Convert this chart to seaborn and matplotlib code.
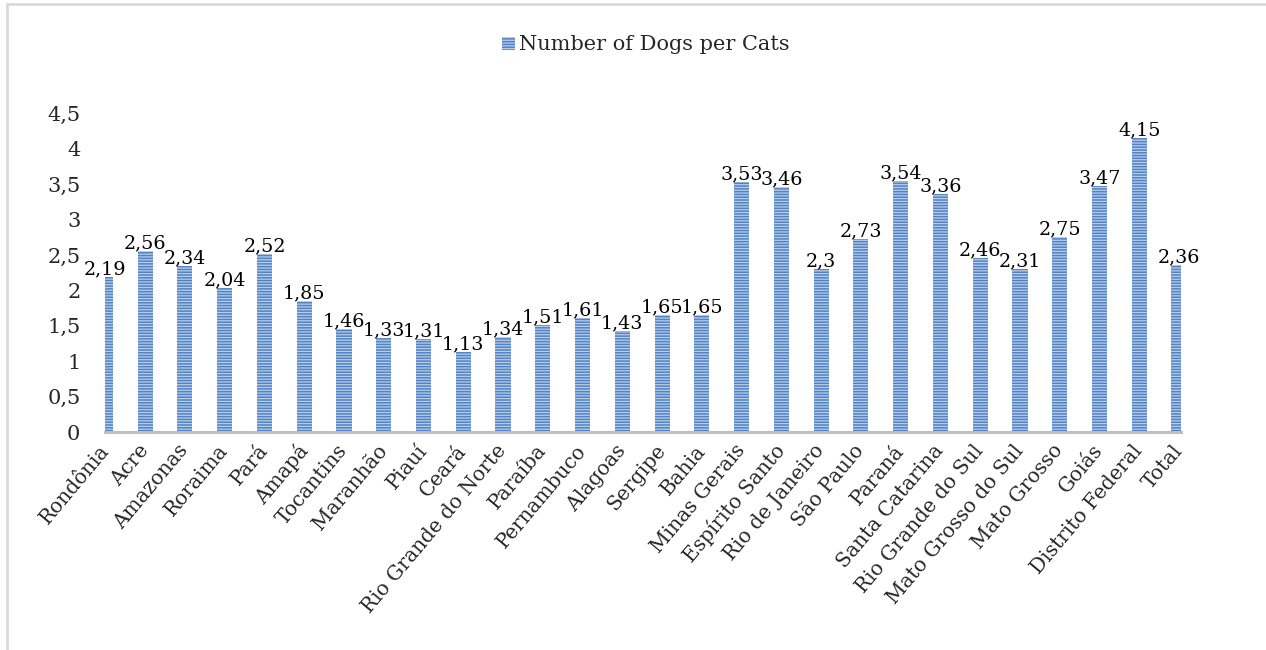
import matplotlib
matplotlib.use("Agg")
import matplotlib.pyplot as plt
import seaborn as sns
from matplotlib.lines import Line2D

categories = ["Rondônia", "Acre", "Amazonas", "Roraima", "Pará", "Amapá", "Tocantins",
              "Maranhão", "Piauí", "Ceará", "Rio Grande do Norte", "Paraíba", "Pernambuco",
              "Alagoas", "Sergipe", "Bahia", "Minas Gerais", "Espírito Santo", "Rio de Janeiro",
              "São Paulo", "Paraná", "Santa Catarina", "Rio Grande do Sul", "Mato Grosso do Sul",
              "Mato Grosso", "Goiás", "Distrito Federal", "Total"]
dogs_per_cats = [2.19, 2.56, 2.34, 2.04, 2.52, 1.85, 1.46, 1.33, 1.31, 1.13, 1.34, 1.51, 1.61,
                 1.43, 1.65, 1.65, 3.53, 3.46, 2.3, 2.73, 3.54, 3.36, 2.46, 2.31, 2.75, 3.47,
                 4.15, 2.36]
y_ticks = [0, 0.5, 1, 1.5, 2, 2.5, 3, 3.5, 4, 4.5]
y_tick_labels = ["0", "0,5", "1", "1,5", "2", "2,5", "3", "3,5", "4", "4,5"]
series_name = "Number of Dogs per Cats"

sns.set_theme(style="white")
plt.rcParams['font.family'] = ['DejaVu Serif', 'Liberation Serif']
plt.rcParams['hatch.linewidth'] = 0.9

W, H = 1266, 650
fig = plt.figure(figsize=(W / 100, H / 100), dpi=100)
ax_left, ax_right = 105.4, 1181
ax_bottom, ax_top = 432, 113.5
ax = fig.add_axes([ax_left / W, 1 - ax_bottom / H, (ax_right - ax_left) / W, (ax_bottom - ax_top) / H])

face = "#5283C4"
stripe = "#B7CDEA"
sns.barplot(x=categories, y=dogs_per_cats, color=face, width=0.38, ax=ax,
            saturation=1, label=series_name)
for p in ax.patches:
    p.set_hatch("------")
    p.set_edgecolor(stripe)
    p.set_linewidth(0)
    p.set_facecolor(face)

for i, v in enumerate(dogs_per_cats):
    ax.annotate(str(v).replace(".", ","), (i, v), xytext=(0, -1), textcoords="offset points",
                ha="center", va="bottom", fontsize=13.8, color="black")

ax.set_ylim(0, 4.5)
ax.set_xlim(0, 27.05)
ax.set_yticks(y_ticks)
ax.set_yticklabels(y_tick_labels, fontsize=15)
ax.set_xticks(range(len(categories)))
ax.set_xticklabels(categories, rotation=50, ha="right", va="center",
                   rotation_mode="anchor", fontsize=14.5)
ax.tick_params(axis="y", length=0, pad=18)
ax.tick_params(axis="x", length=0, pad=11)
for s in ["top", "right", "left"]:
    ax.spines[s].set_visible(False)
ax.spines["bottom"].set_color("#BFBFBF")
ax.spines["bottom"].set_linewidth(2.2)
ax.set_xlabel("")
ax.set_ylabel("")
ax.patch.set_alpha(0)

handles, labels = ax.get_legend_handles_labels()
leg = fig.legend(handles, labels, loc="center", bbox_to_anchor=(646 / W, 1 - 45 / H),
                 frameon=False, fontsize=15, handlelength=0.6, handleheight=0.6,
                 handletextpad=0.2)
if ax.get_legend() is not None:
    ax.get_legend().remove()

# outer chart frame (left and top edges visible)
fig.add_artist(Line2D([6.5 / W, 6.5 / W], [0, 1 - 3.5 / H], transform=fig.transFigure,
                      color="#D9D9D9", lw=2))
fig.add_artist(Line2D([6.5 / W, 1], [1 - 3.5 / H, 1 - 3.5 / H], transform=fig.transFigure,
                      color="#D9D9D9", lw=2))

fig.savefig("out.png", dpi=100)
